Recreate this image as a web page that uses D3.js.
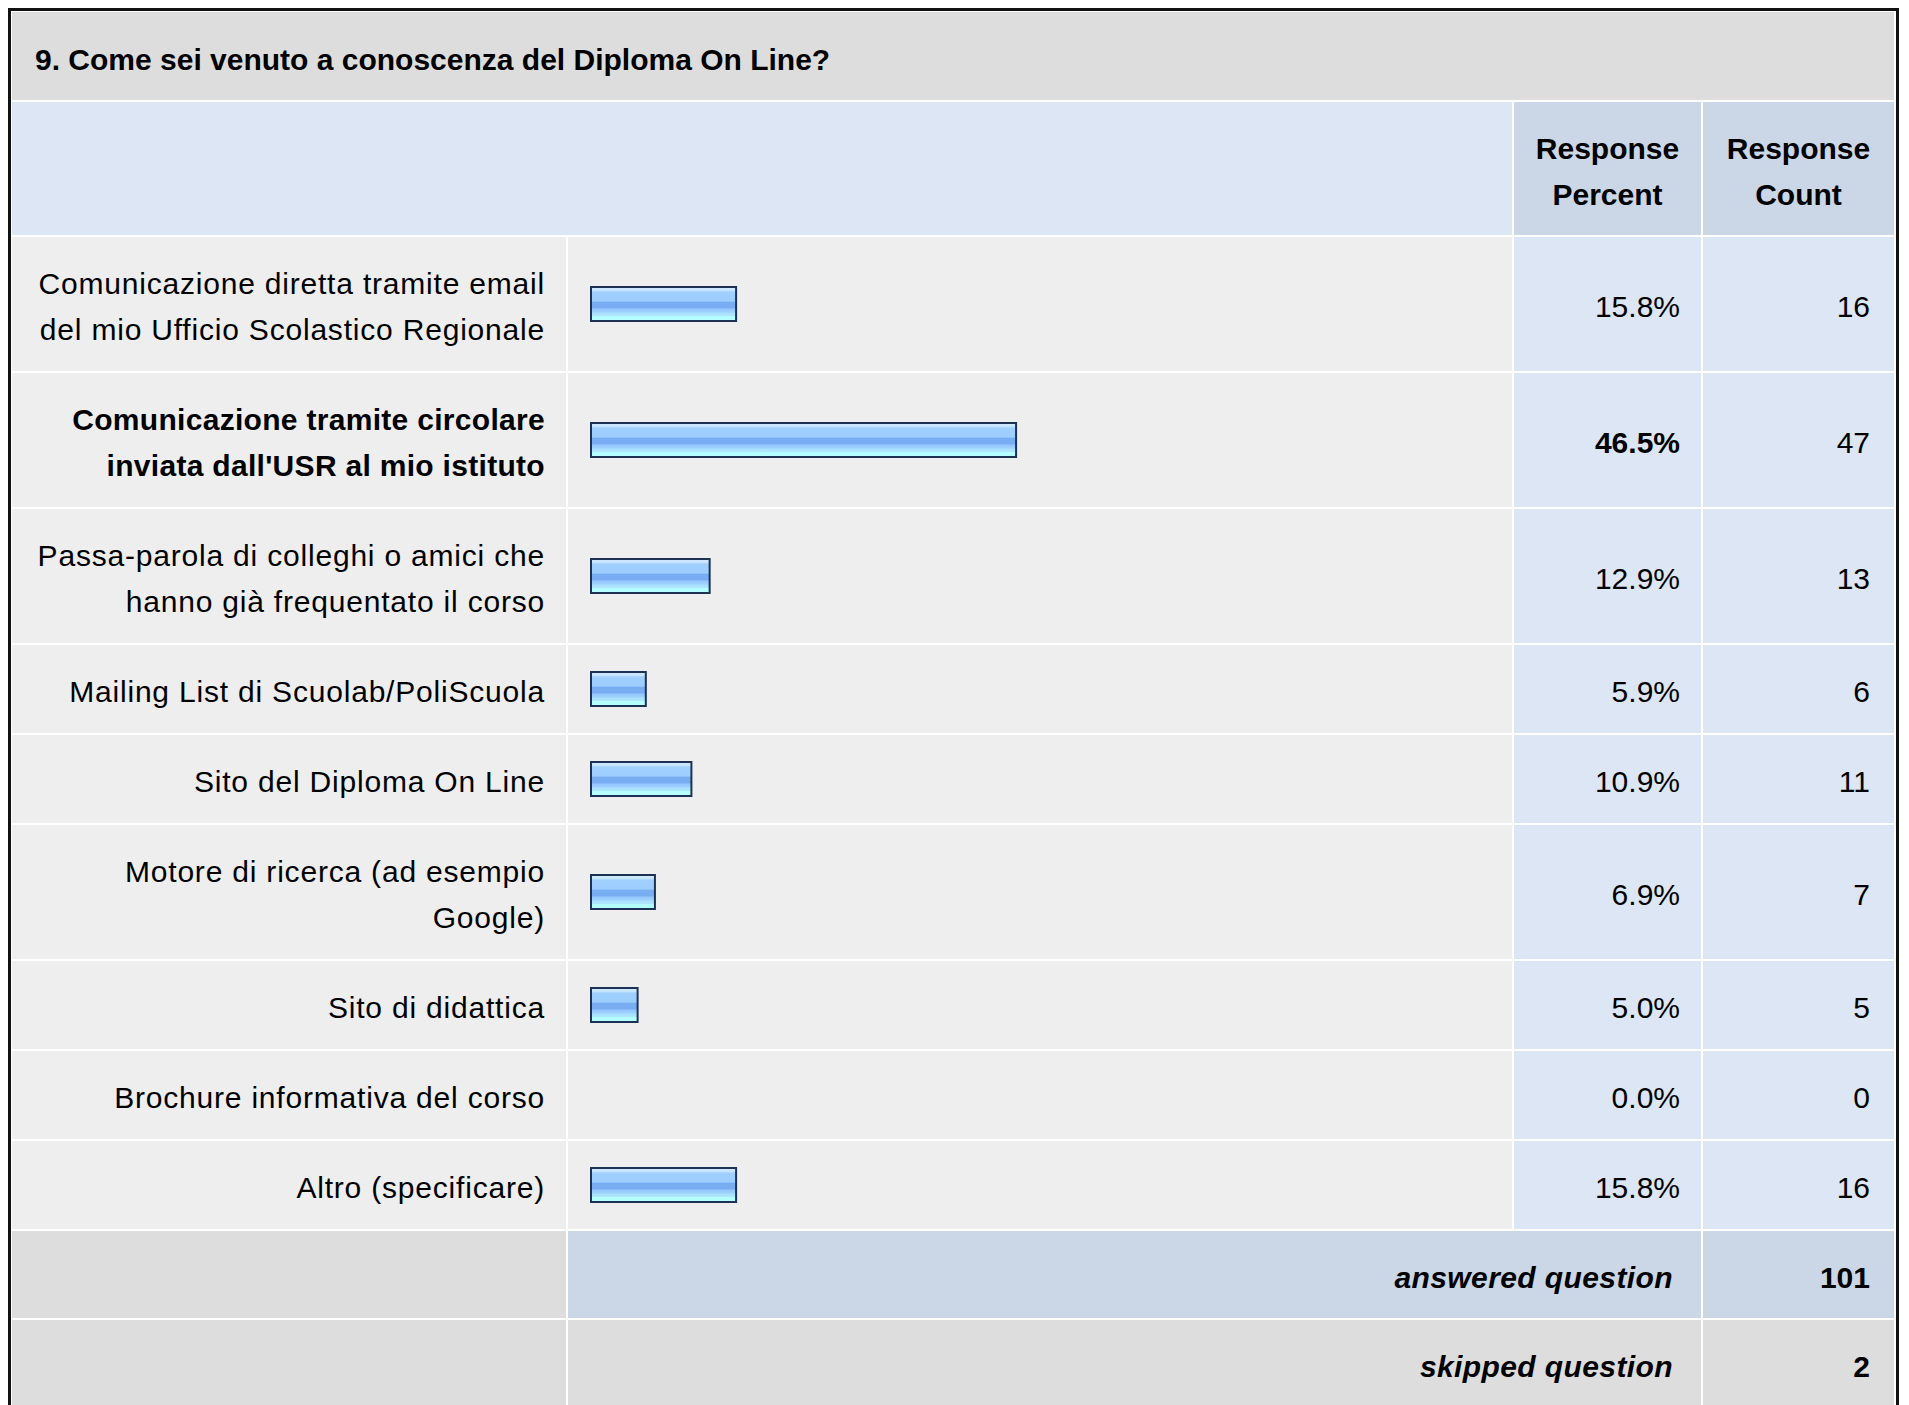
<!DOCTYPE html>
<html>
<head>
<meta charset="utf-8">
<script src="https://cdn.jsdelivr.net/npm/d3@7"></script>
<style>
  html, body { margin: 0; padding: 0; background: #fff; }
  svg { display: block; font-family: "Liberation Sans", Arial, sans-serif; }
</style>
</head>
<body>
<div id="chart"></div>
<script>
// question + answers
const TITLE = "9. Come sei venuto a conoscenza del Diploma On Line?"
const HEADERS = [["Response", "Percent"], ["Response", "Count"]]

const labels = [
    ["Comunicazione diretta tramite email", "del mio Ufficio Scolastico Regionale"],
    ["Comunicazione tramite circolare", "inviata dall'USR al mio istituto"],
    ["Passa-parola di colleghi o amici che", "hanno già frequentato il corso"],
    ["Mailing List di Scuolab/PoliScuola"],
    ["Sito del Diploma On Line"],
    ["Motore di ricerca (ad esempio", "Google)"],
    ["Sito di didattica"],
    ["Brochure informativa del corso"],
    ["Altro (specificare)"]
]
const percents = [15.8, 46.5, 12.9, 5.9, 10.9, 6.9, 5.0, 0.0, 15.8]
const counts = [16, 47, 13, 6, 11, 7, 5, 0, 16]

const summaryLabels = ["answered question", "skipped question"]
const summaryValues = [101, 2]

/* LAYOUT */
const W = 1909, H = 1405
const left = 12, right = 1894
const labelEnd = 566, barEnd = 1512, pctEnd = 1701
const gap = 2
const lineH = 46, pad = 21
const fontSize = 30

const C = {
    title: "#dddddd",
    head: "#dce6f4",
    headDark: "#cbd7e6",
    cell: "#eeeeee",
    num: "#dce6f4",
    border: "#1c3153"
}

const svg = d3.select("#chart").append("svg")
    .attr("width", W)
    .attr("height", H)

svg.append("rect").attr("width", W).attr("height", H).attr("fill", "#fff")

// bar gradient (horizontal stripes)
const grad = svg.append("defs").append("linearGradient")
    .attr("id", "barGrad")
    .attr("x1", 0).attr("y1", 0).attr("x2", 0).attr("y2", 1)
const stops = [
    [0, "#d4ecff"], [0.12, "#c2e2ff"], [0.14, "#a0d0ff"], [0.42, "#9ccdff"],
    [0.44, "#78adf1"], [0.62, "#78adf1"], [0.64, "#93c4ff"], [0.74, "#9fd2ff"],
    [0.76, "#a9e0ff"], [0.84, "#aee6ff"], [0.86, "#b4ffff"], [1, "#b4ffff"]
]
stops.forEach(s => grad.append("stop").attr("offset", s[0]).attr("stop-color", s[1]))

const x = d3.scaleLinear().domain([0, 100]).range([0, 912])

function cell(x0, x1, y0, y1, fill) {
    svg.append("rect")
        .attr("x", x0).attr("y", y0)
        .attr("width", x1 - x0).attr("height", y1 - y0)
        .attr("fill", fill)
}

function multiline(lines, xPos, yCenter, anchor, weight, style, spacing) {
    const t = svg.append("text")
        .attr("text-anchor", anchor)
        .attr("font-size", fontSize)
        .attr("font-weight", weight)
        .attr("font-style", style || "normal")
        .attr("letter-spacing", spacing || 0)
        .attr("fill", "#000")
    const y0 = yCenter - (lines.length - 1) * lineH / 2
    lines.forEach((l, i) => {
        t.append("tspan")
            .attr("x", xPos)
            .attr("y", y0 + i * lineH)
            .attr("dy", "0.44em")
            .text(l)
    })
}

// title band
let y = 12
cell(left, right, y, 100, C.title)
svg.append("text")
    .attr("x", 35).attr("y", 70)
    .attr("font-size", fontSize).attr("font-weight", "bold")
    .text(TITLE)

// header
y = 102
const headBottom = 235
cell(left, barEnd, y, headBottom, C.head)
cell(barEnd + gap, pctEnd, y, headBottom, C.headDark)
cell(pctEnd + gap, right, y, headBottom, C.headDark)
multiline(HEADERS[0], (barEnd + gap + pctEnd) / 2, (y + headBottom) / 2, "middle", "bold")
multiline(HEADERS[1], (pctEnd + gap + right) / 2, (y + headBottom) / 2, "middle", "bold")

// data rows
const maxPct = d3.max(percents)
y = headBottom + gap
labels.forEach((lab, i) => {
    const h = pad * 2 + lab.length * lineH
    const y1 = y + h
    const mid = y + h / 2
    const isMax = percents[i] === maxPct
    cell(left, labelEnd, y, y1, C.cell)
    cell(labelEnd + gap, barEnd, y, y1, C.cell)
    cell(barEnd + gap, pctEnd, y, y1, C.num)
    cell(pctEnd + gap, right, y, y1, C.num)

    multiline(lab, 545, mid, "end", isMax ? "bold" : "normal", "normal", isMax ? 0.3 : 0.8)

    if (percents[i] > 0) {
        svg.append("rect")
            .attr("x", 591).attr("y", mid - 17)
            .attr("width", x(percents[i]) + 1).attr("height", 34)
            .attr("fill", "url(#barGrad)")
            .attr("stroke", C.border)
            .attr("stroke-width", 2)
    }

    multiline([percents[i].toFixed(1) + "%"], 1680, mid, "end", isMax ? "bold" : "normal")
    multiline([String(counts[i])], 1870, mid, "end", "normal")

    y = y1 + gap
})

// summary rows
const sumFills = [[C.title, C.headDark, C.headDark], [C.title, C.title, C.title]]
summaryLabels.forEach((s, i) => {
    const h = pad * 2 + lineH - 1
    const y1 = y + h
    const mid = y + h / 2
    cell(left, labelEnd, y, y1, sumFills[i][0])
    cell(labelEnd + gap, pctEnd, y, y1, sumFills[i][1])
    cell(pctEnd + gap, right, y, y1, sumFills[i][2])
    multiline([s], 1673, mid, "end", "bold", "italic", 0.4)
    multiline([String(summaryValues[i])], 1870, mid, "end", "bold")
    y = y1 + gap
})

// outer frame
svg.append("rect")
    .attr("x", 9.5).attr("y", 9.5)
    .attr("width", 1888).attr("height", 1500)
    .attr("fill", "none")
    .attr("stroke", "#111")
    .attr("stroke-width", 3)
</script>
</body>
</html>
